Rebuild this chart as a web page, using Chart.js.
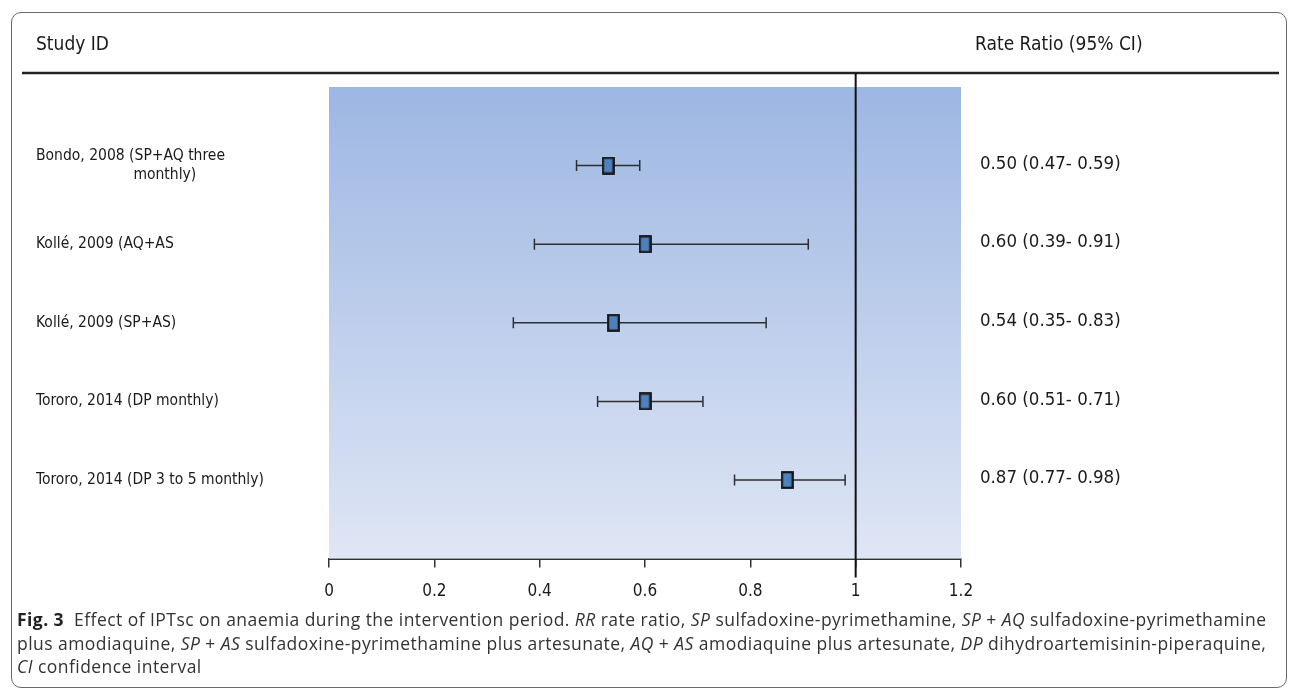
<!DOCTYPE html>
<html>
<head>
<meta charset="utf-8">
<script src="https://cdn.jsdelivr.net/npm/chart.js@4.4.1/dist/chart.umd.min.js"></script>
<style>
  html, body { margin: 0; padding: 0; background: #fff; }
  body { width: 1292px; height: 690px; position: relative; overflow: hidden; }
  #frame { position: absolute; left: 11px; top: 12px; width: 1276px; height: 676px;
           border: 1.5px solid #6a6a6a; border-radius: 10px; box-sizing: border-box; }
  canvas { position: absolute; left: 0; top: 0; }
  .hdr { position: absolute; font-family: "Liberation Sans Narrow", "DejaVu Sans Condensed", sans-serif;
         font-size: 19px; color: #1a1a1a; line-height: 22px; }
  .cap { position: absolute; left: 17px; font-family: "Open Sans", Lato, sans-serif; font-size: 17.5px;
         letter-spacing: 0.45px; color: #333; white-space: nowrap; line-height: 22px; }
  .cap b { color: #222; }
</style>
</head>
<body>
<div id="frame"></div>
<canvas id="forest" width="1292" height="690"></canvas>
<div class="hdr" style="left:36px; top:32px;">Study ID</div>
<div class="hdr" style="left:975px; top:32px;">Rate Ratio (95% CI)</div>
<div class="cap" style="top:608px;"><b>Fig. 3</b>&nbsp; Effect of IPTsc on anaemia during the intervention period. <i>RR</i> rate ratio, <i>SP</i> sulfadoxine-pyrimethamine, <i>SP</i> + <i>AQ</i> sulfadoxine-pyrimethamine</div>
<div class="cap" style="top:632px;">plus amodiaquine, <i>SP</i> + <i>AS</i> sulfadoxine-pyrimethamine plus artesunate, <i>AQ</i> + <i>AS</i> amodiaquine plus artesunate, <i>DP</i> dihydroartemisinin-piperaquine,</div>
<div class="cap" style="top:655px;"><i>CI</i> confidence interval</div>
<script>
// study rows, top to bottom
var studies = [
  ["Bondo, 2008 (SP+AQ three", "                      monthly)"],
  "Kollé, 2009 (AQ+AS",
  "Kollé, 2009 (SP+AS)",
  "Tororo, 2014 (DP monthly)",
  "Tororo, 2014 (DP 3 to 5 monthly)"
];
var rateRatio = [0.53, 0.60, 0.54, 0.60, 0.87];
var ciLow = [0.47, 0.39, 0.35, 0.51, 0.77];
var ciHigh = [0.59, 0.91, 0.83, 0.71, 0.98];
var ciLabels = ["0.50 (0.47- 0.59)", "0.60 (0.39- 0.91)", "0.54 (0.35- 0.83)", "0.60 (0.51- 0.71)", "0.87 (0.77- 0.98)"];
var xTicks = [0, 0.2, 0.4, 0.6, 0.8, 1, 1.2];

var labelFont = '"Liberation Sans Narrow", "DejaVu Sans Condensed", sans-serif';

// square marker
var box = document.createElement('canvas');
box.width = 13; box.height = 18;
var bctx = box.getContext('2d');
bctx.fillStyle = '#4f81bd';
bctx.fillRect(1, 1, 11, 16);
bctx.strokeStyle = '#151515';
bctx.lineWidth = 2.2;
bctx.strokeRect(1.2, 1.2, 10.6, 15.6);

var datasets = [];
for (var i = 0; i < studies.length; i++) {
  datasets.push({
    data: [{x: ciLow[i], y: i + 1}, {x: ciHigh[i], y: i + 1}],
    showLine: true,
    borderColor: '#2e2e2e',
    borderWidth: 1.5,
    pointStyle: 'line',
    rotation: 90,
    pointRadius: 5.5,
    pointBorderColor: '#2e2e2e',
    pointBorderWidth: 1.5,
    order: 2
  });
}
datasets.push({
  data: rateRatio.map(function (v, i) { return {x: v, y: i + 1}; }),
  pointStyle: box,
  order: 1
});

var background = {
  id: 'background',
  beforeDatasetsDraw: function (chart) {
    var a = chart.chartArea, ctx = chart.ctx;
    var g = ctx.createLinearGradient(0, a.top, 0, a.bottom);
    g.addColorStop(0, '#9db7e3');
    g.addColorStop(1, '#dfe6f5');
    ctx.save();
    ctx.fillStyle = g;
    ctx.fillRect(a.left, a.top, a.right - a.left, a.bottom - a.top);
    ctx.restore();
  }
};

var refLines = {
  id: 'refLines',
  afterDatasetsDraw: function (chart) {
    var ctx = chart.ctx, a = chart.chartArea;
    var x1 = chart.scales.x.getPixelForValue(1);
    ctx.save();
    ctx.strokeStyle = '#222';
    ctx.lineWidth = 2.5;
    ctx.beginPath();
    ctx.moveTo(22, 73);
    ctx.lineTo(1279, 73);
    ctx.stroke();
    ctx.strokeStyle = '#111';
    ctx.lineWidth = 2;
    ctx.beginPath();
    ctx.moveTo(x1, 73);
    ctx.lineTo(x1, a.bottom + 19);
    ctx.stroke();
    ctx.restore();
  }
};

new Chart(document.getElementById('forest'), {
  type: 'scatter',
  data: {datasets: datasets},
  plugins: [background, refLines],
  options: {
    responsive: false,
    animation: false,
    layout: {padding: {left: 36, top: 87, right: 0, bottom: 74}},
    plugins: {legend: {display: false}, tooltip: {enabled: false}},
    scales: {
      x: {
        type: 'linear', min: 0, max: 1.2,
        afterBuildTicks: function (s) { s.ticks = xTicks.map(function (v) { return {value: v}; }); },
        ticks: {
          callback: function (v) { return String(Math.round(v * 10) / 10); },
          color: '#1a1a1a', padding: 14,
          font: {family: labelFont, size: 17}
        },
        grid: {drawOnChartArea: false, drawTicks: true, tickLength: 9, color: '#333', lineWidth: 1.5},
        border: {color: '#333', width: 2}
      },
      y: {
        type: 'linear', position: 'left', min: 0, max: 6, reverse: true,
        afterBuildTicks: function (s) { s.ticks = studies.map(function (t, i) { return {value: i + 1}; }); },
        afterFit: function (s) { s.width = 293; },
        ticks: {
          callback: function (v) { return studies[v - 1]; },
          crossAlign: 'far', color: '#1a1a1a',
          font: {family: labelFont, size: 15.5}
        },
        grid: {display: false, drawTicks: false},
        border: {display: false}
      },
      y2: {
        type: 'linear', position: 'right', min: 0, max: 6, reverse: true,
        afterBuildTicks: function (s) { s.ticks = ciLabels.map(function (t, i) { return {value: i + 0.98}; }); },
        afterFit: function (s) { s.width = 331; },
        ticks: {
          callback: function (v) { return ciLabels[Math.round(v) - 1]; },
          crossAlign: 'near', padding: 19, color: '#1a1a1a',
          font: {family: labelFont, size: 18.5}
        },
        grid: {display: false, drawTicks: false},
        border: {display: false}
      }
    }
  }
});
</script>
</body>
</html>
